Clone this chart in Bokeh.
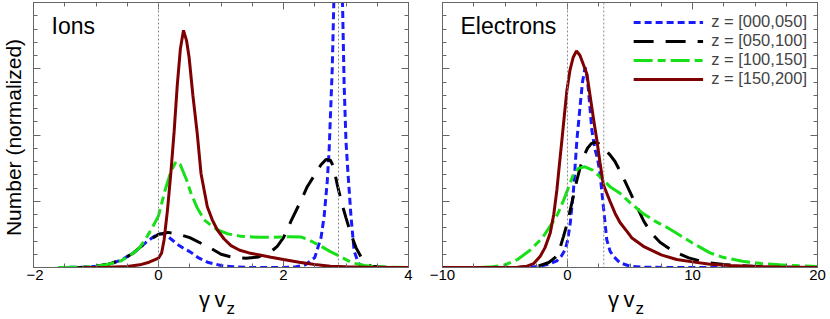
import math
from bokeh.plotting import figure
from bokeh.models import (Range1d, SingleIntervalTicker, LinearAxis, Span, Label,
                          Legend, LegendItem)
from bokeh.layouts import row, column
from bokeh.embed import file_html
from bokeh.resources import INLINE

FONT = "Liberation Sans"

# ---------------- data ----------------
series_labels = ["z = [000,050]", "z = [050,100]", "z = [100,150]", "z = [150,200]"]
series_colors = ["#1a1aff", "#000000", "#18e018", "#7f0000"]
series_dashes = ["7 4", "20 12", "19 5 8 5", "solid"]

panel_titles = ["Ions", "Electrons"]
y_title = "Number (normalized)"
x_title_main = "γ\u2009v"
x_title_sub = "z"
ion_ref_lines = [0.0, 2.88]
ele_ref_lines = [0.0, 2.9]
ion_xlim = [-2, 4]
ele_xlim = [-10, 20]
ion_x_tick_step = 2
ele_x_tick_step = 10
ylim = [0, 4]

# Ions
ion_z000_x = [-1.6, -1.2, -1.0, -0.8, -0.6, -0.4, -0.2, -0.1, 0.0, 0.1, 0.2, 0.3, 0.4, 0.5, 0.65, 0.8, 1.0, 1.2, 1.5, 2.0, 2.2, 2.35, 2.5, 2.6, 2.65, 2.7, 2.73, 2.78, 2.81, 2.85, 2.88, 2.91, 2.94, 2.97, 3.0, 3.03, 3.08, 3.13, 3.2, 3.3, 3.4]
ion_z000_y = [0.0, 0.005, 0.02, 0.05, 0.11, 0.22, 0.38, 0.45, 0.51, 0.5, 0.43, 0.35, 0.29, 0.24, 0.14, 0.075, 0.03, 0.01, 0.0, 0.0, 0.01, 0.04, 0.15, 0.45, 0.77, 1.3, 1.77, 3.0, 4.2, 5.5, 5.8, 5.5, 4.2, 2.77, 1.9, 1.45, 0.77, 0.25, 0.06, 0.01, 0.0]

ion_z050_x = [-1.5, -1.2, -1.0, -0.8, -0.6, -0.4, -0.2, 0.0, 0.15, 0.3, 0.5, 0.8, 1.0, 1.2, 1.4, 1.6, 1.8, 1.9, 2.0, 2.12, 2.3, 2.38, 2.5, 2.6, 2.68, 2.75, 2.8, 2.86, 2.93, 3.0, 3.08, 3.16, 3.24, 3.32, 3.4, 3.7]
ion_z050_y = [0.0, 0.005, 0.02, 0.05, 0.11, 0.22, 0.38, 0.5, 0.53, 0.51, 0.45, 0.31, 0.2, 0.15, 0.14, 0.16, 0.24, 0.32, 0.45, 0.7, 1.05, 1.22, 1.4, 1.55, 1.63, 1.62, 1.52, 1.25, 0.98, 0.75, 0.5, 0.3, 0.16, 0.06, 0.02, 0.0]

ion_z100_x = [-1.6, -1.2, -1.0, -0.8, -0.6, -0.5, -0.4, -0.3, -0.2, -0.1, 0.0, 0.1, 0.2, 0.28, 0.35, 0.45, 0.52, 0.62, 0.73, 0.85, 0.94, 1.1, 1.32, 1.6, 1.85, 2.1, 2.28, 2.4, 2.5, 2.6, 2.75, 2.88, 3.0, 3.1, 3.3, 3.5, 4.0]
ion_z100_y = [0.0, 0.005, 0.02, 0.05, 0.1, 0.16, 0.22, 0.3, 0.44, 0.6, 0.78, 1.15, 1.45, 1.6, 1.55, 1.32, 1.12, 0.9, 0.72, 0.63, 0.57, 0.51, 0.47, 0.455, 0.455, 0.465, 0.46, 0.42, 0.37, 0.32, 0.24, 0.18, 0.12, 0.07, 0.03, 0.01, 0.0]

ion_z150_x = [-1.2, -0.8, -0.5, -0.3, -0.15, 0.0, 0.05, 0.09, 0.144, 0.197, 0.25, 0.3, 0.35, 0.4, 0.45, 0.49, 0.55, 0.62, 0.68, 0.78, 0.86, 0.94, 1.05, 1.16, 1.3, 1.45, 1.58, 1.8, 2.0, 2.25, 2.5, 2.75, 3.0, 3.5, 4.0]
ion_z150_y = [0.0, 0.005, 0.015, 0.04, 0.08, 0.14, 0.22, 0.42, 0.87, 1.42, 2.05, 2.75, 3.3, 3.58, 3.42, 3.17, 2.6, 2.02, 1.42, 0.92, 0.72, 0.57, 0.43, 0.33, 0.26, 0.22, 0.195, 0.155, 0.12, 0.08, 0.045, 0.02, 0.01, 0.0, 0.0]

# Electrons
ele_z000_x = [-10, -4, -3, -2.2, -1.5, -0.85, -0.5, -0.18, 0.0, 0.22, 0.48, 0.75, 1.0, 1.2, 1.41, 1.55, 1.68, 1.95, 2.2, 2.4, 2.6, 2.87, 3.14, 3.4, 3.67, 4.2, 5.0, 6.0, 8.0, 12.6]
ele_z000_y = [0.0, 0.0, 0.005, 0.02, 0.05, 0.1, 0.17, 0.27, 0.4, 0.67, 1.17, 1.92, 2.42, 2.8, 3.02, 2.9, 2.67, 2.07, 1.78, 1.65, 1.42, 0.92, 0.42, 0.25, 0.17, 0.07, 0.02, 0.005, 0.0, 0.0]

ele_z050_x = [-10, -4, -3, -2.3, -1.5, -1.0, -0.7, -0.32, 0.0, 0.22, 0.5, 0.75, 1.0, 1.28, 1.6, 1.9, 2.2, 2.5, 2.9, 3.4, 3.8, 4.3, 4.8, 5.4, 6.1, 6.7, 7.4, 8.5, 9.7, 11.0, 12.5, 14.0, 16.0, 18.0]
ele_z050_y = [0.0, 0.0, 0.01, 0.025, 0.075, 0.15, 0.23, 0.47, 0.68, 0.87, 1.1, 1.32, 1.5, 1.67, 1.8, 1.87, 1.89, 1.87, 1.8, 1.7, 1.6, 1.42, 1.22, 0.98, 0.7, 0.52, 0.38, 0.24, 0.145, 0.08, 0.045, 0.025, 0.01, 0.005]

ele_z100_x = [-10, -7, -6, -5, -4, -3, -2, -1.4, -0.8, -0.3, 0.1, 0.5, 0.9, 1.4, 2.0, 2.6, 3.4, 4.2, 5.0, 6.0, 7.0, 8.0, 8.7, 10.0, 11.4, 12.5, 14.0, 15.5, 17.0, 18.5, 20.0]
ele_z100_y = [0.0, 0.0, 0.01, 0.04, 0.12, 0.26, 0.45, 0.62, 0.8, 1.02, 1.22, 1.42, 1.5, 1.52, 1.47, 1.37, 1.22, 1.12, 0.98, 0.82, 0.7, 0.6, 0.52, 0.37, 0.22, 0.15, 0.095, 0.06, 0.04, 0.025, 0.015]

ele_z150_x = [-10, -5, -4, -3.24, -2.7, -2.18, -1.8, -1.38, -1.1, -0.85, -0.65, -0.45, -0.25, -0.05, 0.2, 0.45, 0.72, 1.0, 1.3, 1.55, 1.8, 2.1, 2.35, 2.6, 2.87, 3.4, 3.8, 4.2, 4.74, 5.13, 6.07, 7.5, 8.73, 10.0, 11.4, 13.0, 15.0, 17.0, 20.0]
ele_z150_y = [0.0, 0.0, 0.005, 0.02, 0.06, 0.17, 0.3, 0.52, 0.8, 1.17, 1.55, 1.92, 2.3, 2.67, 2.98, 3.17, 3.27, 3.2, 3.05, 2.92, 2.6, 2.22, 1.92, 1.58, 1.25, 1.0, 0.82, 0.68, 0.55, 0.45, 0.32, 0.19, 0.12, 0.085, 0.05, 0.03, 0.015, 0.008, 0.0]

ion_series = [(ion_z000_x, ion_z000_y), (ion_z050_x, ion_z050_y),
              (ion_z100_x, ion_z100_y), (ion_z150_x, ion_z150_y)]
ele_series = [(ele_z000_x, ele_z000_y), (ele_z050_x, ele_z050_y),
              (ele_z100_x, ele_z100_y), (ele_z150_x, ele_z150_y)]

# ---------------- layout / styling ----------------
FRAME_H = 265
FRAME_W = 375
TOP_B = 2
BOT_B = 20
YLAB_W = 26
P1_LEFT = 7
XLAB_H = 31
AX_COL = "#666666"
# Bokeh places an "alphabetic" label's text box centre on the anchor; the
# baseline ends up this fraction of the font size below the anchor.
BASE_SHIFT = 0.3465


def style_axis(ax, labels=True):
    ax.axis_line_color = AX_COL
    ax.axis_line_width = 1
    ax.major_tick_line_color = AX_COL
    ax.minor_tick_line_color = AX_COL
    ax.major_tick_in = 7
    ax.major_tick_out = 0
    ax.minor_tick_in = 4
    ax.minor_tick_out = 0
    if labels:
        ax.major_label_text_font = FONT
        ax.major_label_text_font_size = "15px"
        ax.major_label_text_color = "black"
        ax.major_label_standoff = 2
    else:
        ax.major_label_text_font_size = "0px"
        ax.major_label_text_color = None
        ax.major_label_standoff = 0


def blank_fig(w, h, xr=None):
    f = figure(frame_width=w, frame_height=h, x_range=xr or Range1d(0, 1),
               y_range=Range1d(0, 1), output_backend="svg", toolbar_location=None,
               min_border_left=0, min_border_right=0, min_border_top=0,
               min_border_bottom=0, x_axis_location=None, y_axis_location=None)
    f.xgrid.visible = False
    f.ygrid.visible = False
    f.outline_line_color = None
    f.background_fill_color = "white"
    f.border_fill_color = "white"
    return f


def make_panel(title, xlim, x_interval, series, ref_lines, border_left, border_right,
               legend=False):
    p = figure(frame_width=FRAME_W, frame_height=FRAME_H,
               x_range=Range1d(*xlim), y_range=Range1d(*ylim),
               output_backend="svg", toolbar_location=None,
               min_border_left=border_left, min_border_right=border_right,
               min_border_top=TOP_B, min_border_bottom=BOT_B,
               x_axis_location=None, y_axis_location=None)
    p.xgrid.visible = False
    p.ygrid.visible = False
    p.outline_line_color = AX_COL
    p.background_fill_color = "white"
    p.border_fill_color = "white"

    bx = LinearAxis(ticker=SingleIntervalTicker(interval=x_interval, num_minor_ticks=4))
    style_axis(bx, True)
    p.add_layout(bx, "below")
    tx = LinearAxis(ticker=SingleIntervalTicker(interval=x_interval, num_minor_ticks=4))
    style_axis(tx, False)
    p.add_layout(tx, "above")
    ly = LinearAxis(ticker=SingleIntervalTicker(interval=1, num_minor_ticks=5))
    style_axis(ly, False)
    p.add_layout(ly, "left")
    ry = LinearAxis(ticker=SingleIntervalTicker(interval=1, num_minor_ticks=5))
    style_axis(ry, False)
    p.add_layout(ry, "right")

    for loc in ref_lines:
        p.add_layout(Span(location=loc, dimension="height", line_color="#888888",
                          line_width=1, line_dash="2 2"))

    items = []
    for (xs, ys), lab, col, dash in zip(series, series_labels, series_colors, series_dashes):
        r = p.line(xs, ys, line_color=col, line_width=3, line_dash=dash)
        items.append(LegendItem(label=lab, renderers=[r]))

    if legend:
        lg = Legend(items=items, location="top_right",
                    glyph_width=70, glyph_height=18, label_height=18,
                    label_text_font=FONT, label_text_font_size="16.5px",
                    label_standoff=8, spacing=0, padding=2, margin=10,
                    border_line_color=None, background_fill_alpha=0)
        p.add_layout(lg)

    # panel title: baseline ~31.5 px under the frame top
    p.add_layout(Label(x=18, y=FRAME_H - 31.5 + BASE_SHIFT * 23, x_units="screen",
                       y_units="screen", text=title, text_font=FONT, text_font_size="23px",
                       text_baseline="alphabetic", text_color="black"))

    # x-axis title strip under the panel
    xl = blank_fig(FRAME_W, XLAB_H, Range1d(*xlim))
    xl.min_border_left = border_left
    xl.min_border_right = border_right
    xc = (xlim[0] + xlim[1]) / 2.0
    xl.add_layout(Label(x=xc, y=11 + BASE_SHIFT * 22, x_units="data", y_units="screen",
                        x_offset=4.5, text=x_title_main, text_font=FONT,
                        text_font_size="22px", text_align="right",
                        text_baseline="alphabetic", text_color="black"))
    xl.add_layout(Label(x=xc, y=4.5 + BASE_SHIFT * 17, x_units="data", y_units="screen",
                        x_offset=5.5, text=x_title_sub, text_font=FONT,
                        text_font_size="17px", text_align="left",
                        text_baseline="alphabetic", text_color="black"))
    return column(p, xl)


col1 = make_panel(panel_titles[0], ion_xlim, ion_x_tick_step, ion_series, ion_ref_lines,
                  P1_LEFT, 14)
col2 = make_panel(panel_titles[1], ele_xlim, ele_x_tick_step, ele_series, ele_ref_lines, 20, 12,
                  legend=True)

# y-axis title strip to the left (baseline at x ~ 20 px)
YL_H = TOP_B + FRAME_H + BOT_B
yl = blank_fig(YLAB_W, YL_H)
yl.add_layout(Label(x=20 - BASE_SHIFT * 21, y=YL_H - 137, x_units="screen",
                    y_units="screen", angle=math.pi / 2, text=y_title, text_font=FONT,
                    text_font_size="21px", text_align="center", text_baseline="alphabetic",
                    text_color="black"))

layout = row(yl, col1, col2)
open("out.html", "w").write(file_html(layout, INLINE))
